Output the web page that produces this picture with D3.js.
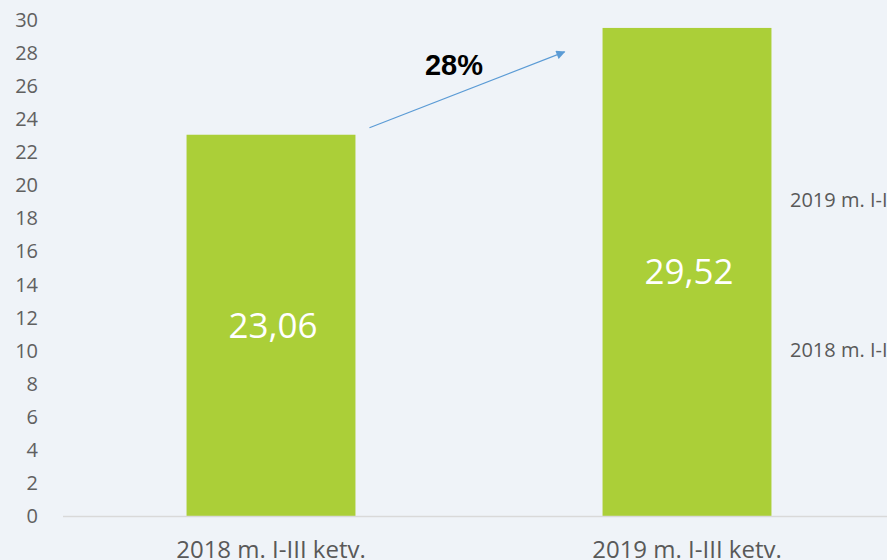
<!DOCTYPE html>
<html>
<head>
<meta charset="utf-8">
<script src="https://cdn.jsdelivr.net/npm/d3@7"></script>
<style>
  html, body { margin: 0; padding: 0; background: #eff3f8; }
  svg { display: block; }
</style>
</head>
<body>
<div id="chart"></div>
<script>
// data
const categories = ["2018 m. I-III ketv.", "2019 m. I-III ketv."];
const values = [23.06, 29.52];
const yTicks = d3.range(0, 31, 2);
const growthLabel = "28%";
const legendLabels = ["2019 m. I-III ketv.", "2018 m. I-III ketv."];

const width = 887,
    height = 560;

const svg = d3.select("#chart")
    .append("svg")
    .attr("width", width)
    .attr("height", height)
    .style("font-family", "'Open Sans', sans-serif");

svg.append("rect")
    .attr("width", width)
    .attr("height", height)
    .attr("fill", "#eff3f8");

const x = d3.scaleBand()
    .domain(categories)
    .range([63, 895])
    .paddingInner(0.594)
    .paddingOuter(0.297);

const y = d3.scaleLinear()
    .domain([0, 30])
    .range([516, 20]);

// y axis labels (no axis line)
svg.selectAll(".ytick")
    .data(yTicks)
    .join("text")
    .attr("class", "ytick")
    .attr("x", 38)
    .attr("y", d => y(d) + 7)
    .attr("text-anchor", "end")
    .attr("fill", "#606060")
    .style("font-size", "20px")
    .text(d => d);

// bars
svg.selectAll(".bar")
    .data(values)
    .join("rect")
    .attr("class", "bar")
    .attr("x", (d, i) => x(categories[i]))
    .attr("y", d => y(d))
    .attr("width", x.bandwidth())
    .attr("height", d => y(0) - y(d))
    .attr("fill", "#abcf38");

// baseline
svg.append("line")
    .attr("x1", 63)
    .attr("x2", width)
    .attr("y1", y(0) + 0.5)
    .attr("y2", y(0) + 0.5)
    .attr("stroke", "#d9d9d9")
    .attr("stroke-width", 1.5);

// value labels inside bars
svg.selectAll(".val")
    .data(values)
    .join("text")
    .attr("class", "val")
    .attr("x", (d, i) => x(categories[i]) + x.bandwidth() / 2 + 2)
    .attr("y", d => (y(d) + y(0)) / 2 + 12.5)
    .attr("text-anchor", "middle")
    .attr("fill", "#ffffff")
    .style("font-size", "35px")
    .text(d => d.toFixed(2).replace(".", ","));

// category labels
svg.selectAll(".xlab")
    .data(categories)
    .join("text")
    .attr("class", "xlab")
    .attr("x", d => x(d) + x.bandwidth() / 2)
    .attr("y", 558)
    .attr("text-anchor", "middle")
    .attr("fill", "#595959")
    .style("font-size", "24px")
    .text(d => d);

// legend on the right, cut by the edge
svg.selectAll(".leg")
    .data(legendLabels)
    .join("text")
    .attr("class", "leg")
    .attr("x", 790)
    .attr("y", (d, i) => 207 + i * 150)
    .attr("fill", "#595959")
    .style("font-size", "20px")
    .text(d => d);

// growth arrow
svg.append("defs").append("marker")
    .attr("id", "arrowhead")
    .attr("viewBox", "0 0 10 10")
    .attr("refX", 9)
    .attr("refY", 5)
    .attr("markerWidth", 11)
    .attr("markerHeight", 9)
    .attr("markerUnits", "userSpaceOnUse")
    .attr("orient", "auto")
    .append("path")
    .attr("d", "M0,0 L10,5 L0,10 Z")
    .attr("fill", "#5b9bd5");

const x1 = x(categories[0]) + x.bandwidth() + 14,
    y1 = y(values[0]) - 7,
    x2 = x(categories[1]) - 38,
    y2 = y(28.07);

svg.append("line")
    .attr("x1", x1)
    .attr("y1", y1)
    .attr("x2", x2)
    .attr("y2", y2)
    .attr("stroke", "#5b9bd5")
    .attr("stroke-width", 1.2)
    .attr("marker-end", "url(#arrowhead)");

svg.append("text")
    .attr("x", 454)
    .attr("y", 75)
    .attr("text-anchor", "middle")
    .attr("fill", "#000000")
    .style("font-family", "'Liberation Sans', Arial, sans-serif")
    .style("font-weight", "bold")
    .style("font-size", "29px")
    .text(growthLabel);
</script>
</body>
</html>
